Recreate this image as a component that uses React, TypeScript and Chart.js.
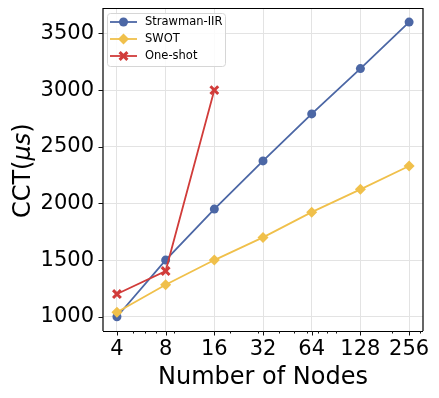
import React, { useEffect, useRef } from 'react';
import { Chart, registerables } from 'chart.js';

Chart.register(...registerables);

const NODES = [4, 8, 16, 32, 64, 128, 256];
const STRAWMAN = [1000, 1500, 1950, 2375, 2790, 3190, 3600];
const SWOT = [1040, 1282, 1500, 1700, 1923, 2124, 2330];
const ONE_SHOT = [1200, 1403, 3000];
const X_TICKS = [4, 8, 16, 32, 64, 128, 256];
const X_MINOR_TICKS = [5, 6, 7, 9, 20, 30, 40, 50, 60, 70, 80, 90, 200, 300];
const Y_TICKS = [1000, 1500, 2000, 2500, 3000, 3500];
const SERIES_NAMES = ['Strawman-IIR', 'SWOT', 'One-shot'];
const COLORS = ['#4c67a5', '#f0c04b', '#d13c3a'];
const X_TITLE = 'Number of Nodes';

const FONT = '"DejaVu Sans", "Liberation Sans", sans-serif';

function drawMarker(ctx: CanvasRenderingContext2D, kind: string, x: number, y: number, color: string) {
  ctx.save();
  ctx.fillStyle = color;
  ctx.strokeStyle = color;
  if (kind === 'circle') {
    ctx.beginPath();
    ctx.arc(x, y, 4.5, 0, Math.PI * 2);
    ctx.fill();
  } else if (kind === 'diamond') {
    const r = 5.5;
    ctx.beginPath();
    ctx.moveTo(x, y - r);
    ctx.lineTo(x + r, y);
    ctx.lineTo(x, y + r);
    ctx.lineTo(x - r, y);
    ctx.closePath();
    ctx.fill();
  } else {
    const r = 3.9;
    ctx.lineWidth = 3;
    ctx.beginPath();
    ctx.moveTo(x - r, y - r);
    ctx.lineTo(x + r, y + r);
    ctx.moveTo(x + r, y - r);
    ctx.lineTo(x - r, y + r);
    ctx.stroke();
  }
  ctx.restore();
}

const framePlugin = {
  id: 'frame',
  afterDraw(chart: any) {
    const ctx: CanvasRenderingContext2D = chart.ctx;
    const { left, right, top, bottom } = chart.chartArea;
    const xs = chart.scales.x;
    const ys = chart.scales.y;
    ctx.save();
    // spines
    ctx.strokeStyle = '#000';
    ctx.lineWidth = 1.2;
    ctx.beginPath();
    ctx.moveTo(left, bottom);
    ctx.lineTo(left, top);
    ctx.lineTo(right, top);
    ctx.lineTo(right, bottom);
    ctx.stroke();
    ctx.lineWidth = 1;
    ctx.beginPath();
    ctx.moveTo(left, bottom + 0.5);
    ctx.lineTo(right, bottom + 0.5);
    ctx.stroke();
    // x ticks
    ctx.lineWidth = 1;
    ctx.strokeStyle = '#111';
    ctx.beginPath();
    for (const v of X_TICKS) {
      const px = Math.round(xs.getPixelForValue(v)) + 0.5;
      ctx.moveTo(px, bottom);
      ctx.lineTo(px, bottom + 4.5);
    }
    for (const v of X_MINOR_TICKS) {
      const px = Math.round(xs.getPixelForValue(v)) + 0.5;
      if (px < left || px > right) continue;
      ctx.moveTo(px, bottom);
      ctx.lineTo(px, bottom + 2.5);
    }
    for (const v of Y_TICKS) {
      const py = Math.round(ys.getPixelForValue(v)) + 0.5;
      ctx.moveTo(left - 4.5, py);
      ctx.lineTo(left, py);
    }
    ctx.stroke();

    // x title
    ctx.fillStyle = '#000';
    ctx.font = `24px ${FONT}`;
    ctx.textAlign = 'center';
    ctx.textBaseline = 'alphabetic';
    ctx.fillText(X_TITLE, (left + right) / 2, 384);

    // y title with italic mu s
    const parts = [
      { t: 'CCT(', f: `24px ${FONT}` },
      { t: 'μs', f: `italic 24px ${FONT}` },
      { t: ')', f: `24px ${FONT}` },
    ];
    let total = 0;
    const widths = parts.map((p) => {
      ctx.font = p.f;
      const w = ctx.measureText(p.t).width;
      total += w;
      return w;
    });
    ctx.translate(29.5, (top + bottom) / 2 + 1);
    ctx.rotate(-Math.PI / 2);
    ctx.textAlign = 'left';
    let cx = -total / 2;
    parts.forEach((p, i) => {
      ctx.font = p.f;
      ctx.fillText(p.t, cx, 0);
      cx += widths[i];
    });
    ctx.restore();

    // legend
    ctx.save();
    const bx = 107.5, by = 13.5, bw = 118, bh = 53, rr = 3;
    ctx.beginPath();
    ctx.moveTo(bx + rr, by);
    ctx.lineTo(bx + bw - rr, by);
    ctx.quadraticCurveTo(bx + bw, by, bx + bw, by + rr);
    ctx.lineTo(bx + bw, by + bh - rr);
    ctx.quadraticCurveTo(bx + bw, by + bh, bx + bw - rr, by + bh);
    ctx.lineTo(bx + rr, by + bh);
    ctx.quadraticCurveTo(bx, by + bh, bx, by + bh - rr);
    ctx.lineTo(bx, by + rr);
    ctx.quadraticCurveTo(bx, by, bx + rr, by);
    ctx.closePath();
    ctx.fillStyle = 'rgba(255,255,255,0.85)';
    ctx.fill();
    ctx.strokeStyle = '#d6d6d6';
    ctx.lineWidth = 1;
    ctx.stroke();
    const kinds = ['circle', 'diamond', 'x'];
    const rowsY = [22, 39, 56];
    SERIES_NAMES.forEach((name, i) => {
      const y = rowsY[i];
      ctx.strokeStyle = COLORS[i];
      ctx.lineWidth = 1.8;
      ctx.beginPath();
      ctx.moveTo(110, y);
      ctx.lineTo(137, y);
      ctx.stroke();
      drawMarker(ctx, kinds[i], 123.5, y, COLORS[i]);
      ctx.fillStyle = '#000';
      ctx.font = `11.5px ${FONT}`;
      ctx.textAlign = 'left';
      ctx.textBaseline = 'middle';
      ctx.fillText(name, 145, y + 0.5);
    });
    ctx.restore();
  },
};

export default function App() {
  const ref = useRef<HTMLCanvasElement | null>(null);
  useEffect(() => {
    document.body.style.margin = '0';
    const canvas = ref.current;
    if (!canvas) return;
    const toPts = (vals: number[]) => vals.map((y, i) => ({ x: NODES[i], y }));
    const chart = new Chart(canvas, {
      type: 'line',
      data: {
        datasets: [
          {
            label: SERIES_NAMES[0],
            data: toPts(STRAWMAN),
            borderColor: COLORS[0],
            backgroundColor: COLORS[0],
            borderWidth: 1.8,
            pointStyle: 'circle',
            pointRadius: 4.5,
            pointBorderWidth: 0,
            order: 3,
          },
          {
            label: SERIES_NAMES[1],
            data: toPts(SWOT),
            borderColor: COLORS[1],
            backgroundColor: COLORS[1],
            borderWidth: 1.8,
            pointStyle: 'rectRot',
            pointRadius: 5.5,
            pointBorderWidth: 0,
            order: 2,
          },
          {
            label: SERIES_NAMES[2],
            data: toPts(ONE_SHOT),
            borderColor: COLORS[2],
            backgroundColor: COLORS[2],
            borderWidth: 1.8,
            pointStyle: 'crossRot',
            pointRadius: 5.5,
            pointBorderWidth: 3,
            order: 1,
          },
        ],
      },
      options: {
        responsive: false,
        animation: false,
        layout: { padding: { top: 8, right: 16, left: 0, bottom: 0 } },
        plugins: { legend: { display: false }, tooltip: { enabled: false } },
        elements: { line: { tension: 0 } },
        scales: {
          x: {
            type: 'logarithmic',
            min: 3.28,
            max: 312,
            afterBuildTicks: (s: any) => {
              s.ticks = X_TICKS.map((v) => ({ value: v }));
            },
            afterFit: (s: any) => {
              s.height = 67;
              s.paddingLeft = 0;
              s.paddingRight = 0;
            },
            ticks: {
              callback: (v: any) => String(v),
              font: { family: FONT, size: 21 },
              color: '#000',
              maxRotation: 0,
              autoSkip: false,
              padding: 6,
            },
            grid: { color: '#e3e3e3', lineWidth: 1, drawTicks: false },
            border: { display: false },
          },
          y: {
            type: 'linear',
            min: 874,
            max: 3720,
            afterBuildTicks: (s: any) => {
              s.ticks = Y_TICKS.map((v) => ({ value: v }));
            },
            afterFit: (s: any) => {
              s.width = 103;
              s.paddingTop = 0;
              s.paddingBottom = 0;
            },
            ticks: {
              callback: (v: any) => String(v),
              font: { family: FONT, size: 21 },
              color: '#000',
              padding: 9,
            },
            grid: { color: '#e3e3e3', lineWidth: 1, drawTicks: false },
            border: { display: false },
          },
        },
      },
      plugins: [framePlugin],
    });
    return () => chart.destroy();
  }, []);
  return <canvas ref={ref} width={439} height={398} style={{ display: 'block' }} />;
}
